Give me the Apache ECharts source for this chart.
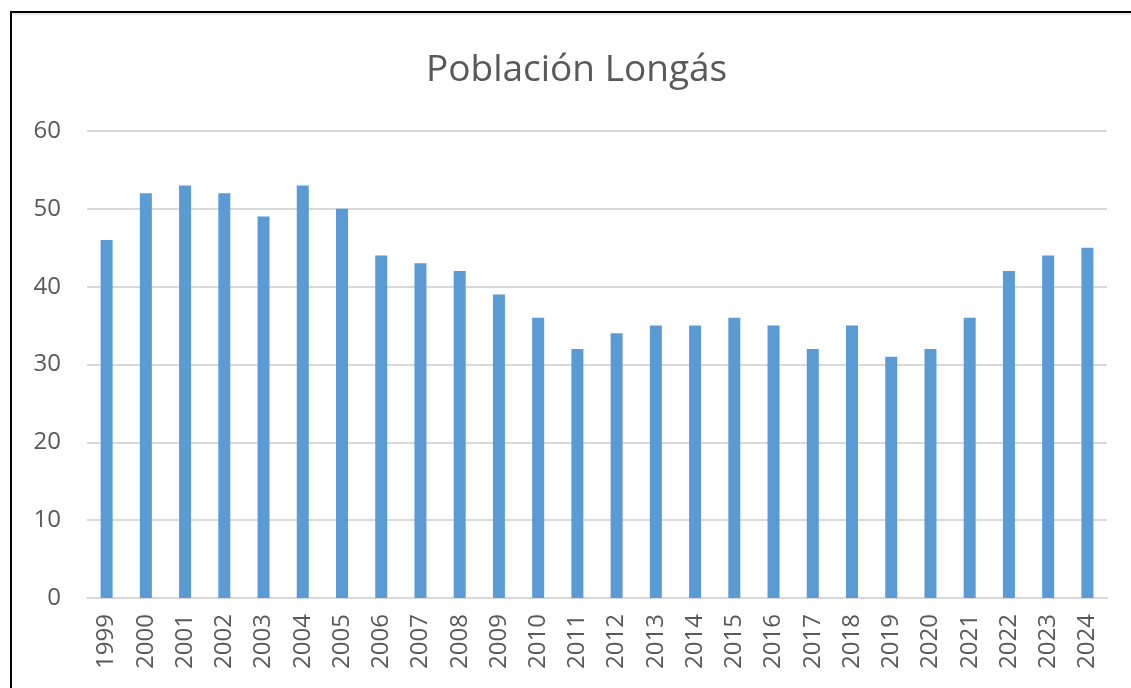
<!DOCTYPE html>
<html>
<head>
<meta charset="utf-8">
<script src="https://cdn.jsdelivr.net/npm/echarts@6/dist/echarts.min.js"></script>
<style>
  html, body { margin: 0; padding: 0; background: #fff; }
  #chart { width: 1131px; height: 688px; }
</style>
</head>
<body>
<div id="chart"></div>
<script>
// Yearly population figures
const years = ['1999','2000','2001','2002','2003','2004','2005','2006','2007','2008','2009','2010','2011','2012','2013','2014','2015','2016','2017','2018','2019','2020','2021','2022','2023','2024'];
const population = [46,52,53,52,49,53,50,44,43,42,39,36,32,34,35,35,36,35,32,35,31,32,36,42,44,45];
const chartTitle = 'Población Longás';

const textColor = '#595959';
const fontFamily = '"Open Sans", "Liberation Sans", sans-serif';

const chart = echarts.init(document.getElementById('chart'));
chart.setOption({
  animation: false,
  backgroundColor: '#ffffff',
  title: {
    text: chartTitle,
    left: 421,
    top: 47,
    textStyle: { color: textColor, fontSize: 37, fontWeight: 'normal', fontFamily: fontFamily }
  },
  grid: { left: 87, right: 24, top: 131, bottom: 90, containLabel: false },
  xAxis: {
    type: 'category',
    data: years,
    axisLine: { lineStyle: { color: '#d9d9d9', width: 2 } },
    axisTick: { show: false },
    axisLabel: { rotate: 90, color: textColor, fontSize: 24, fontFamily: fontFamily, margin: 16 }
  },
  yAxis: {
    type: 'value',
    min: 0,
    max: 60,
    interval: 10,
    axisLine: { show: false },
    axisTick: { show: false },
    splitLine: { lineStyle: { color: '#d9d9d9', width: 2 } },
    axisLabel: { color: textColor, fontSize: 24, fontFamily: fontFamily, margin: 26 }
  },
  series: [{
    type: 'bar',
    data: population,
    barWidth: 12,
    itemStyle: { color: '#5b9bd5' }
  }],
  graphic: [
    { type: 'line', shape: { x1: 11, y1: 12, x2: 11, y2: 700 }, style: { stroke: '#000', lineWidth: 2 } },
    { type: 'line', shape: { x1: 10, y1: 12, x2: 1140, y2: 12 }, style: { stroke: '#000', lineWidth: 2 } },
    { type: 'line', shape: { x1: 13, y1: 14, x2: 1140, y2: 14 }, style: { stroke: '#cfcfcf', lineWidth: 1 } }
  ]
});
</script>
</body>
</html>
